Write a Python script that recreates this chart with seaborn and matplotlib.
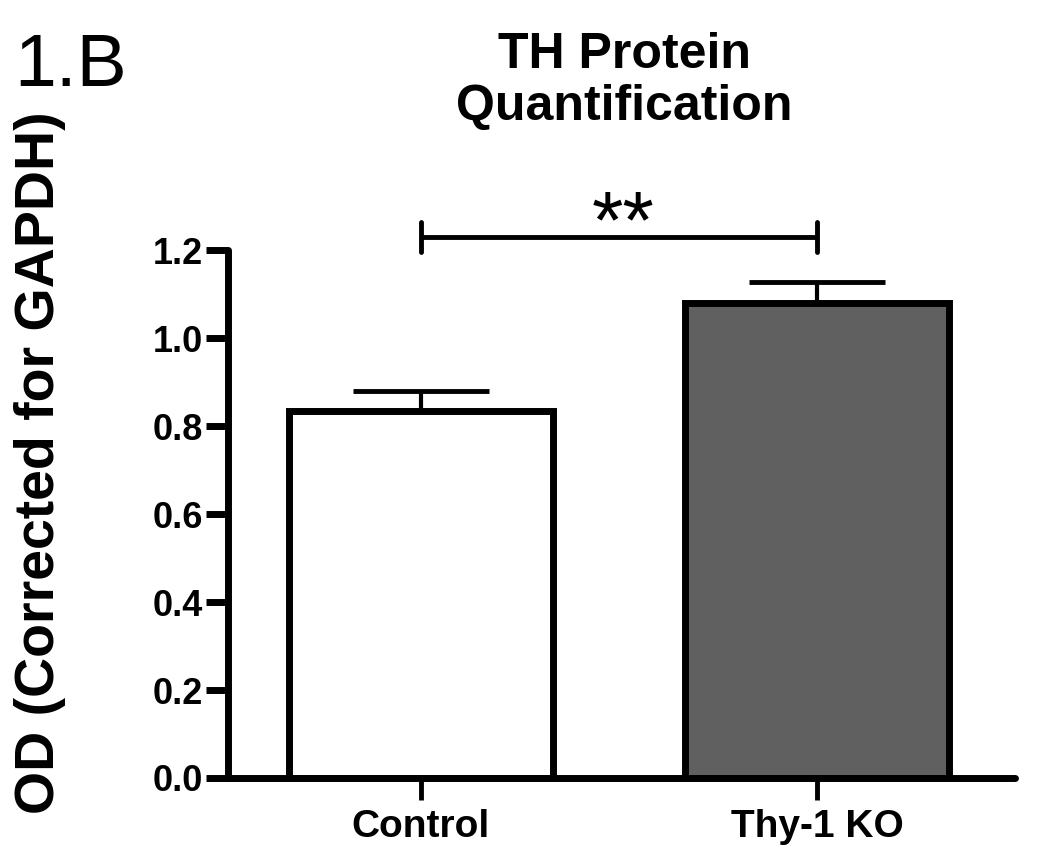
import numpy as np
import pandas as pd
import matplotlib
matplotlib.use("Agg")
import matplotlib.pyplot as plt
import seaborn as sns

# data
groups = ["Control", "Thy-1 KO"]
means = [0.835, 1.080]
sems = [0.045, 0.047]
bar_colors = ["#ffffff", "#606060"]
yticks = [0.0, 0.2, 0.4, 0.6, 0.8, 1.0, 1.2]
sig_label = "**"
sig_y = 1.23

sns.set_style("ticks")
plt.rcParams["font.family"] = ["Liberation Sans", "DejaVu Sans"]
plt.rcParams.update({"text.color": "black", "axes.edgecolor": "black",
                     "axes.labelcolor": "black", "xtick.color": "black",
                     "ytick.color": "black"})

df = pd.DataFrame({"group": groups, "od": means})

fig = plt.figure(figsize=(10.5, 8.51), dpi=100)
ax = fig.add_axes([0.217, 0.0858, 0.75, 0.62])

# error bars first (upper only), bars on top
ax.errorbar([0, 1], means, yerr=[[0, 0], sems], fmt="none", ecolor="black",
            elinewidth=3, capsize=49, capthick=3.5, zorder=1)
sns.barplot(data=df, x="group", y="od", hue="group", palette=bar_colors,
            legend=False, edgecolor="black", linewidth=5, width=0.667,
            errorbar=None, ax=ax, zorder=2)

ax.set_xlim(-0.487, 1.5)
ax.set_ylim(0, 1.2)
ax.set_yticks(yticks)
ax.set_yticklabels([f"{t:.1f}" for t in yticks])
ax.set_xlabel("")
ax.set_ylabel("OD (Corrected for GAPDH)", fontsize=40, fontweight="bold")
ax.yaxis.set_label_coords(-0.205, 0.598)

for s in ["top", "right"]:
    ax.spines[s].set_visible(False)
for s in ["left", "bottom"]:
    ax.spines[s].set_linewidth(5)
    ax.spines[s].set_capstyle("round")
ax.tick_params(axis="y", length=16, width=5, labelsize=26, pad=2)
ax.tick_params(axis="x", length=16, width=3.5, labelsize=28, pad=6)
for lab in ax.get_xticklabels() + ax.get_yticklabels():
    lab.set_fontweight("bold")

# significance bracket
ax.plot([0, 1], [sig_y, sig_y], color="black", lw=3.5, clip_on=False,
        solid_capstyle="butt")
for xb in [0, 1]:
    ax.plot([xb, xb], [sig_y - 0.034, sig_y + 0.034], color="black", lw=3.5,
            clip_on=False, solid_capstyle="round")
ax.text(0.51, sig_y - 0.062, sig_label, ha="center", va="bottom",
        fontsize=58)

fig.text(0.595, 0.962, "TH Protein\nQuantification", ha="center", va="top",
         fontsize=36, fontweight="bold", linespacing=1.15)
fig.text(0.014, 0.962, "1.B", ha="left", va="top", fontsize=54)

fig.savefig("out.png", dpi=100)
